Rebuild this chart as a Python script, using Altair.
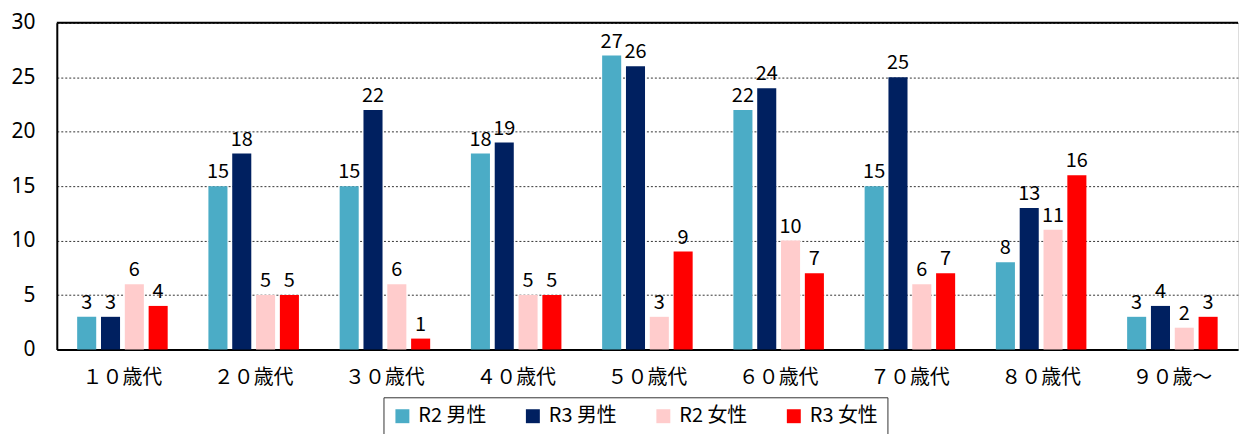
import altair as alt
import pandas as pd

categories = ["１０歳代", "２０歳代", "３０歳代", "４０歳代", "５０歳代", "６０歳代", "７０歳代", "８０歳代", "９０歳～"]
series = ["R2 男性", "R3 男性", "R2 女性", "R3 女性"]
r2_male = [3, 15, 15, 18, 27, 22, 15, 8, 3]
r3_male = [3, 18, 22, 19, 26, 24, 25, 13, 4]
r2_female = [6, 5, 6, 5, 3, 10, 6, 11, 2]
r3_female = [4, 5, 1, 5, 9, 7, 7, 16, 3]
colors = ["#4BACC6", "#002060", "#FFCCCC", "#FF0000"]
y_ticks = [0, 5, 10, 15, 20, 25, 30]

rows = []
for s, vals in zip(series, [r2_male, r3_male, r2_female, r3_female]):
    for c, v in zip(categories, vals):
        rows.append({"cat": c, "series": s, "value": v})
df = pd.DataFrame(rows)

FONT = "Noto Sans CJK JP"

yaxis = alt.Axis(values=y_ticks, labelFontSize=21, labelColor="#000", labelFont="Noto Sans",
                 labelPadding=22, ticks=False, domainColor="#000", domainWidth=2,
                 gridColor="#333", gridDash=[2, 2], gridWidth=1, title=None)
yscale = alt.Scale(domain=[0, 30], nice=False)

x = alt.X("cat:N", sort=categories, title=None,
          scale=alt.Scale(paddingInner=0.274, paddingOuter=0.137),
          axis=alt.Axis(labelAngle=0, labelFontSize=20, labelColor="#000", labelFont=FONT,
                        labelPadding=18, ticks=False, domainColor="#000", domainWidth=2))
xo = alt.XOffset("series:N", sort=series,
                 scale=alt.Scale(paddingInner=0.2, paddingOuter=0.1))
y = alt.Y("value:Q", title=None, scale=yscale, axis=yaxis)

base = alt.Chart(df)

bars = base.mark_bar().encode(
    x=x, xOffset=xo, y=y,
    color=alt.Color("series:N", sort=series,
                    scale=alt.Scale(domain=series, range=colors),
                    legend=alt.Legend(title=None, orient="none", legendX=328, legendY=376,
                                      direction="horizontal", columns=4,
                                      symbolType="square", symbolSize=196, symbolStrokeWidth=0,
                                      labelFontSize=20, labelFont=FONT, labelColor="#000",
                                      columnPadding=36, labelOffset=6,
                                      strokeColor="#333", padding=9,
                                      symbolOpacity=1)),
)

labels = base.mark_text(baseline="bottom", dy=-4, fontSize=20, font=FONT, color="#000").encode(
    x=x, xOffset=xo, y=y, text="value:Q"
)

top_rule = alt.Chart(pd.DataFrame({"value": [y_ticks[-1]]})).mark_rule(color="#000", strokeWidth=2).encode(
    y=alt.Y("value:Q", title=None, scale=yscale, axis=yaxis)
)

chart = alt.layer(bars, labels, top_rule).properties(
    width=1186, height=328,
    padding={"left": 2, "top": 3, "right": 0, "bottom": 0}
).configure_view(stroke=None).configure(font=FONT)

chart.save("out.html", embed_options={"renderer": "svg", "actions": False})
